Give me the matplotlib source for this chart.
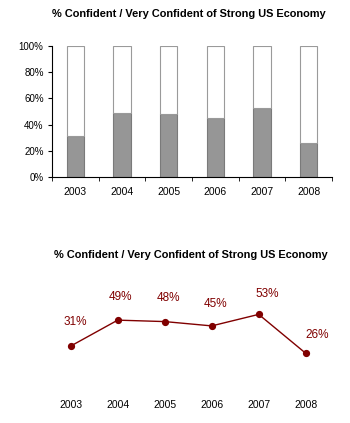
import matplotlib
matplotlib.use("Agg")
import matplotlib.pyplot as plt
from matplotlib.ticker import FixedLocator

years = ["2003", "2004", "2005", "2006", "2007", "2008"]
confident = [31, 49, 48, 45, 53, 26]
title = "% Confident / Very Confident of Strong US Economy"

# label nudges (points) for the line chart, as placed in the original
label_dx = [5, 3, 4, 4, 9, 11]
label_dy = [17, 17, 17, 16, 15, 13]

plt.rcParams["font.family"] = ["Liberation Sans", "DejaVu Sans"]

W, H = 350, 423
fig = plt.figure(figsize=(W / 100, H / 100), dpi=100)
fig.patch.set_facecolor("white")

def px_axes(x0, y0, x1, y1):
    # axes placed from pixel box (top-left origin)
    return fig.add_axes([x0 / W, 1 - y1 / H, (x1 - x0) / W, (y1 - y0) / H])

# --- top: stacked 100% bars ---
ax = px_axes(52, 46, 332, 177)
x = list(range(len(years)))
rest = [100 - v for v in confident]
ax.bar(x, confident, width=0.37, color="#969696", edgecolor="#7a7a7a", linewidth=0.8)
ax.bar(x, rest, bottom=confident, width=0.37, color="white", edgecolor="#9a9a9a", linewidth=0.8)
ax.set_xlim(-0.5, 5.5)
ax.set_ylim(0, 100)
ax.set_yticks([0, 20, 40, 60, 80, 100])
ax.set_yticklabels([f"{v}%" for v in [0, 20, 40, 60, 80, 100]])
ax.set_xticks(x)
ax.set_xticklabels(years)
ax.xaxis.set_minor_locator(FixedLocator([i - 0.5 for i in range(len(years) + 1)]))
ax.tick_params(axis="x", which="major", length=0, labelsize=7.5, pad=7)
ax.tick_params(axis="x", which="minor", length=3, direction="out")
ax.tick_params(axis="y", length=3, labelsize=7, pad=3)
for s in ["top", "right"]:
    ax.spines[s].set_visible(False)
for s in ["left", "bottom"]:
    ax.spines[s].set_color("black")
    ax.spines[s].set_linewidth(0.8)
fig.text(189 / W, 1 - 14 / H, title, ha="center", va="center",
         fontsize=7.9, fontweight="bold")

# --- bottom: line chart ---
ax2 = px_axes(47.2, 304.3, 329.2, 390.7)
ax2.plot(x, confident, color="#800000", linewidth=1, marker="o", markersize=4.2)
for xi, v, dx, dy in zip(x, confident, label_dx, label_dy):
    ax2.annotate(f"{v}%", (xi, v), xytext=(dx * 0.72, dy), textcoords="offset points",
                 ha="center", va="center", color="#800000", fontsize=8.5)
ax2.set_xlim(-0.5, 5.5)
ax2.set_ylim(0, 60)
ax2.set_xticks(x)
ax2.set_xticklabels(years)
ax2.set_yticks([])
ax2.tick_params(axis="x", length=0, labelsize=7.5, pad=7)
for s in ax2.spines.values():
    s.set_visible(False)
fig.text(191 / W, 1 - 255 / H, title, ha="center", va="center",
         fontsize=7.9, fontweight="bold")

fig.savefig("out.png", dpi=100)
